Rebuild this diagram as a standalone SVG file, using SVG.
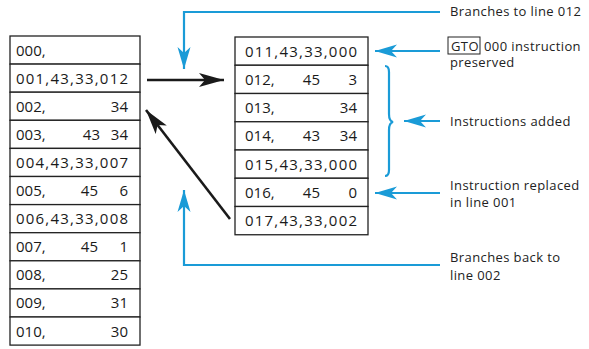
<svg xmlns="http://www.w3.org/2000/svg" width="589" height="349" viewBox="0 0 589 349">
<style>
.cell{fill:#fff;stroke:#222;stroke-width:1.3}
.t{font-family:"Open Sans","DejaVu Sans",sans-serif;font-size:15px;fill:#1a1a1a}
.e{text-anchor:end}
.lbl{font-family:"Open Sans","DejaVu Sans",sans-serif;font-size:13px;fill:#222;letter-spacing:0.4px}
.blue{fill:none;stroke:#1a9bd7;stroke-width:2.2}
.blk{fill:none;stroke:#1a1a1a;stroke-width:2.6}
</style>
<defs>
<marker id="ab" markerUnits="userSpaceOnUse" markerWidth="24" markerHeight="16" refX="22" refY="8" orient="auto">
<path d="M0,1.5 L22,8 L0,14.5 L6,8 Z" fill="#1a9bd7"/>
</marker>
<marker id="ak" markerUnits="userSpaceOnUse" markerWidth="27" markerHeight="16" refX="25" refY="8" orient="auto">
<path d="M0,1 L25,8 L0,15 L6,8 Z" fill="#1a1a1a"/>
</marker>
</defs>
<g id="left-table">
<rect class="cell" x="10" y="36" width="130" height="28.1"/>
<rect class="cell" x="10" y="64.1" width="130" height="28.1"/>
<rect class="cell" x="10" y="92.2" width="130" height="28.1"/>
<rect class="cell" x="10" y="120.3" width="130" height="28.1"/>
<rect class="cell" x="10" y="148.4" width="130" height="28.1"/>
<rect class="cell" x="10" y="176.5" width="130" height="28.1"/>
<rect class="cell" x="10" y="204.6" width="130" height="28.1"/>
<rect class="cell" x="10" y="232.7" width="130" height="28.1"/>
<rect class="cell" x="10" y="260.8" width="130" height="28.1"/>
<rect class="cell" x="10" y="288.9" width="130" height="28.1"/>
<rect class="cell" x="10" y="317" width="130" height="28.1"/>
<text class="t" x="16" y="55.5">000,</text>
<text class="t" x="16" y="83.6" textLength="112" lengthAdjust="spacing">001,43,33,012</text>
<text class="t" x="16" y="111.7">002,</text><text class="t e" x="128" y="111.7">34</text>
<text class="t" x="16" y="139.8">003,</text><text class="t e" x="100" y="139.8">43</text><text class="t e" x="128" y="139.8">34</text>
<text class="t" x="16" y="167.9" textLength="112" lengthAdjust="spacing">004,43,33,007</text>
<text class="t" x="16" y="196">005,</text><text class="t e" x="98" y="196">45</text><text class="t e" x="128" y="196">6</text>
<text class="t" x="16" y="224.1" textLength="112" lengthAdjust="spacing">006,43,33,008</text>
<text class="t" x="16" y="252.2">007,</text><text class="t e" x="98" y="252.2">45</text><text class="t e" x="128" y="252.2">1</text>
<text class="t" x="16" y="280.3">008,</text><text class="t e" x="128" y="280.3">25</text>
<text class="t" x="16" y="308.4">009,</text><text class="t e" x="128" y="308.4">31</text>
<text class="t" x="16" y="336.5">010,</text><text class="t e" x="128" y="336.5">30</text>
</g>
<g id="right-table">
<rect class="cell" x="235" y="37" width="133" height="28.25"/>
<rect class="cell" x="235" y="65.25" width="133" height="28.25"/>
<rect class="cell" x="235" y="93.5" width="133" height="28.25"/>
<rect class="cell" x="235" y="121.75" width="133" height="28.25"/>
<rect class="cell" x="235" y="150" width="133" height="28.25"/>
<rect class="cell" x="235" y="178.25" width="133" height="28.25"/>
<rect class="cell" x="235" y="206.5" width="133" height="28.25"/>
<text class="t" x="245" y="56.5" textLength="112" lengthAdjust="spacing">011,43,33,000</text>
<text class="t" x="245" y="84.8">012,</text><text class="t e" x="320" y="84.8">45</text><text class="t e" x="357" y="84.8">3</text>
<text class="t" x="245" y="113">013,</text><text class="t e" x="357" y="113">34</text>
<text class="t" x="245" y="141.3">014,</text><text class="t e" x="320" y="141.3">43</text><text class="t e" x="357" y="141.3">34</text>
<text class="t" x="245" y="169.5" textLength="112" lengthAdjust="spacing">015,43,33,000</text>
<text class="t" x="245" y="197.8">016,</text><text class="t e" x="320" y="197.8">45</text><text class="t e" x="357" y="197.8">0</text>
<text class="t" x="245" y="226" textLength="112" lengthAdjust="spacing">017,43,33,002</text>
</g>
<g id="connectors">
<line class="blk" x1="147" y1="80" x2="224" y2="80" marker-end="url(#ak)"/>
<line class="blk" x1="230" y1="219" x2="146" y2="110" marker-end="url(#ak)"/>
<polyline class="blue" points="440,12 184,12 184,69" marker-end="url(#ab)"/>
<line class="blue" x1="440" y1="51" x2="375" y2="51" marker-end="url(#ab)"/>
<line class="blue" x1="440" y1="121" x2="404" y2="121" marker-end="url(#ab)"/>
<line class="blue" x1="440" y1="193" x2="375" y2="193" marker-end="url(#ab)"/>
<polyline class="blue" points="440,265 184,265 184,190" marker-end="url(#ab)"/>
<path class="blue" d="M385,66 Q389,66 389,72 L389,114 Q389,121 393,122 Q389,123 389,130 L389,170 Q389,176 385,176"/>
</g>
<g id="labels">
<text class="lbl" x="450" y="16">Branches to line 012</text>
<rect x="448" y="37" width="32" height="17" fill="none" stroke="#222" stroke-width="1"/>
<text class="lbl" x="451" y="50.5">GTO</text>
<text class="lbl" x="484" y="50.5">000 instruction</text>
<text class="lbl" x="450" y="67">preserved</text>
<text class="lbl" x="450" y="126">Instructions added</text>
<text class="lbl" x="450" y="190">Instruction replaced</text>
<text class="lbl" x="450" y="207">in line 001</text>
<text class="lbl" x="450" y="262">Branches back to</text>
<text class="lbl" x="450" y="280">line 002</text>
</g>
</svg>
